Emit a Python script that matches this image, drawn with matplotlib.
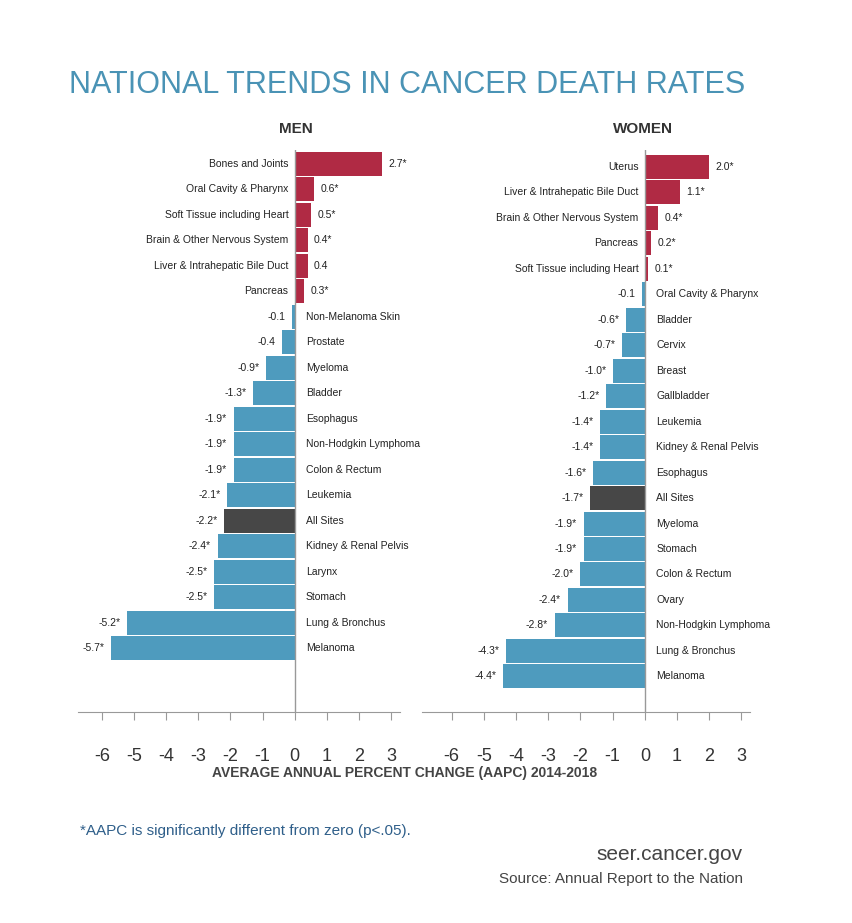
import matplotlib.pyplot as plt

plt.rcParams['font.family'] = ['Liberation Sans', 'DejaVu Sans']

men_sites = ['Bones and Joints', 'Oral Cavity & Pharynx', 'Soft Tissue including Heart',
             'Brain & Other Nervous System', 'Liver & Intrahepatic Bile Duct', 'Pancreas',
             'Non-Melanoma Skin', 'Prostate', 'Myeloma', 'Bladder', 'Esophagus',
             'Non-Hodgkin Lymphoma', 'Colon & Rectum', 'Leukemia', 'All Sites',
             'Kidney & Renal Pelvis', 'Larynx', 'Stomach', 'Lung & Bronchus', 'Melanoma']
men_aapc = [2.7, 0.6, 0.5, 0.4, 0.4, 0.3, -0.1, -0.4, -0.9, -1.3, -1.9, -1.9, -1.9,
            -2.1, -2.2, -2.4, -2.5, -2.5, -5.2, -5.7]
men_sig = [1, 1, 1, 1, 0, 1, 0, 0, 1, 1, 1, 1, 1, 1, 1, 1, 1, 1, 1, 1]

women_sites = ['Uterus', 'Liver & Intrahepatic Bile Duct', 'Brain & Other Nervous System',
               'Pancreas', 'Soft Tissue including Heart', 'Oral Cavity & Pharynx', 'Bladder',
               'Cervix', 'Breast', 'Gallbladder', 'Leukemia', 'Kidney & Renal Pelvis',
               'Esophagus', 'All Sites', 'Myeloma', 'Stomach', 'Colon & Rectum', 'Ovary',
               'Non-Hodgkin Lymphoma', 'Lung & Bronchus', 'Melanoma']
women_aapc = [2.0, 1.1, 0.4, 0.2, 0.1, -0.1, -0.6, -0.7, -1.0, -1.2, -1.4, -1.4, -1.6,
              -1.7, -1.9, -1.9, -2.0, -2.4, -2.8, -4.3, -4.4]
women_sig = [1, 1, 1, 1, 1, 0, 1, 1, 1, 1, 1, 1, 1, 1, 1, 1, 1, 1, 1, 1, 1]

ticks = [-6, -5, -4, -3, -2, -1, 0, 1, 2, 3]

RED = '#B02A44'
BLUE = '#4E9BBE'
DARK = '#474747'


def draw_panel(rect, sites, aapc, sig, xlim, ylim, heading):
    ax = plt.axes(rect)
    colors = [DARK if s == 'All Sites' else (RED if v > 0 else BLUE) for s, v in zip(sites, aapc)]
    ax.barh(range(len(sites)), aapc, height=0.94, color=colors)
    ax.axvline(0, color='#999999', lw=1)
    for i, (s, v, g) in enumerate(zip(sites, aapc, sig)):
        val = f'{v:.1f}' + ('*' if g else '')
        if v > 0:
            ax.text(v + 0.2, i, val, ha='left', va='center', fontsize=7.5, color='#222222')
            ax.text(-0.2, i, s, ha='right', va='center', fontsize=7.5, color='#222222')
        else:
            ax.text(v - 0.2, i, val, ha='right', va='center', fontsize=7.5, color='#222222')
            ax.text(0.35, i, s, ha='left', va='center', fontsize=7.5, color='#222222')
    ax.set_xlim(xlim)
    ax.set_ylim(ylim)
    ax.set_xticks(ticks)
    ax.set_xticklabels([str(t) for t in ticks], fontsize=13, color='#333333')
    ax.tick_params(axis='x', length=6, pad=20, color='#999999')
    ax.set_yticks([])
    for side in ['top', 'left', 'right']:
        ax.spines[side].set_visible(False)
    ax.spines['bottom'].set_color('#999999')
    ax.set_facecolor('none')
    plt.figtext(heading[0], 0.856, heading[1], ha='center', fontsize=11, fontweight='bold',
                color='#333333')
    return ax


fig = plt.figure(figsize=(8.52, 9.23), dpi=100)

draw_panel([0.0915, 0.2286, 0.3775, 0.609], men_sites, men_aapc, men_sig,
           (-6.74, 3.26), (21.5, -0.55), (0.347, 'MEN'))
draw_panel([0.495, 0.2286, 0.385, 0.609], women_sites, women_aapc, women_sig,
           (-6.93, 3.26), (21.4, -0.67), (0.755, 'WOMEN'))

plt.figtext(0.478, 0.908, 'NATIONAL TRENDS IN CANCER DEATH RATES', ha='center', va='center',
            fontsize=22, color='#4A93B5')
plt.figtext(0.475, 0.163, 'AVERAGE ANNUAL PERCENT CHANGE (AAPC) 2014-2018', ha='center',
            va='center', fontsize=10, fontweight='bold', color='#444444')
plt.figtext(0.094, 0.100, '*AAPC is significantly different from zero (p<.05).', ha='left',
            va='center', fontsize=11, color='#2F5F8A')
plt.figtext(0.872, 0.074, 'seer.cancer.gov', ha='right', va='center', fontsize=15, color='#444444')
plt.figtext(0.872, 0.048, 'Source: Annual Report to the Nation', ha='right', va='center',
            fontsize=11, color='#444444')

plt.savefig('out.png', dpi=100)
